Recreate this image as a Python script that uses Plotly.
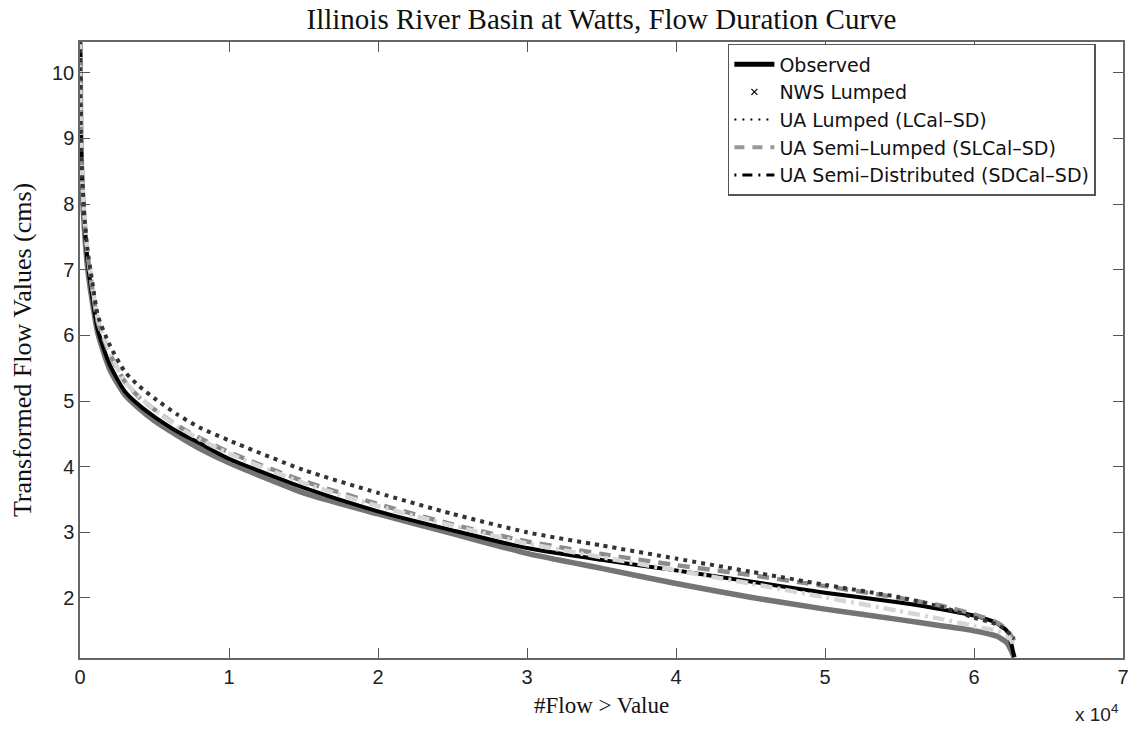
import plotly.graph_objects as go

# ---- data (x = number of flows exceeding value) ----
flow_count = [0, 50, 150, 300, 500, 800, 1200, 2000, 3000, 4000, 5000, 6500, 8000, 10000,
              15000, 20000, 25000, 30000, 35000, 40000, 45000, 50000, 55000,
              58000, 60000, 61500, 62200, 62500, 62700]

observed = [10.5, 9.0, 8.2, 7.6, 7.05, 6.55, 6.03, 5.48, 5.1, 4.88, 4.7, 4.48, 4.28, 4.06,
            3.6, 3.28, 2.98, 2.68, 2.45, 2.22, 2.01, 1.83, 1.67,
            1.57, 1.5, 1.42, 1.32, 1.2, 1.09]

nws_lumped = [10.5, 9.1, 8.3, 7.7, 7.15, 6.62, 6.08, 5.55, 5.15, 4.93, 4.76, 4.54, 4.36, 4.12,
              3.68, 3.32, 3.03, 2.76, 2.58, 2.42, 2.25, 2.08, 1.93,
              1.82, 1.73, 1.62, 1.5, 1.3, 1.1]

ua_lumped = [10.5, 9.2, 8.4, 7.8, 7.3, 6.85, 6.3, 5.85, 5.45, 5.22, 5.04, 4.8, 4.6, 4.4,
             3.95, 3.6, 3.28, 3.0, 2.8, 2.6, 2.4, 2.2, 2.01,
             1.85, 1.7, 1.6, 1.5, 1.42, 1.38]

ua_semi_lumped = [10.5, 9.15, 8.35, 7.75, 7.25, 6.75, 6.2, 5.72, 5.3, 5.05, 4.87, 4.63, 4.44, 4.22,
                  3.78, 3.43, 3.12, 2.86, 2.67, 2.5, 2.35, 2.18, 2.0,
                  1.87, 1.75, 1.63, 1.52, 1.42, 1.35]

ua_semi_dist = [10.5, 9.2, 8.4, 7.8, 7.3, 6.8, 6.25, 5.75, 5.3, 5.06, 4.87, 4.62, 4.42, 4.2,
                3.75, 3.4, 3.1, 2.83, 2.62, 2.42, 2.22, 2.01, 1.8,
                1.67, 1.57, 1.5, 1.43, 1.35, 1.25]

x_tick_vals = [0, 10000, 20000, 30000, 40000, 50000, 60000, 70000]
x_tick_text = ["0", "1", "2", "3", "4", "5", "6", "7"]
y_tick_vals = [2, 3, 4, 5, 6, 7, 8, 9, 10]

names = ["Observed", "NWS Lumped", "UA Lumped (LCal\u2013SD)",
         "UA Semi\u2013Lumped (SLCal\u2013SD)", "UA Semi\u2013Distributed (SDCal\u2013SD)"]

SANS = "Liberation Sans, Arial, sans-serif"
LEG = "DejaVu Sans, Liberation Sans, sans-serif"
SERIF = "Liberation Serif, Times New Roman, serif"

fig = go.Figure()

spl = dict(shape="spline", smoothing=0.6)
# data curves (grayscale appearance of the printed figure)
fig.add_trace(go.Scatter(x=flow_count, y=observed, mode="lines", showlegend=False,
                         line=dict(color="#747474", width=5.5, **spl)))
fig.add_trace(go.Scatter(x=flow_count, y=nws_lumped, mode="lines", showlegend=False,
                         line=dict(color="#000000", width=4, **spl)))
fig.add_trace(go.Scatter(x=flow_count, y=ua_semi_lumped, mode="lines", showlegend=False,
                         line=dict(color="#8c8c8c", width=4.5, dash="12px,8px", **spl)))
fig.add_trace(go.Scatter(x=flow_count, y=ua_semi_dist, mode="lines", showlegend=False,
                         line=dict(color="#d6d6d6", width=4.5, dash="12px,5px,3px,5px", **spl)))
fig.add_trace(go.Scatter(x=flow_count, y=ua_lumped, mode="lines", showlegend=False,
                         line=dict(color="#333333", width=4, dash="4px,5px", **spl)))

# legend entries (styles as in the reference legend)
fig.add_trace(go.Scatter(x=[None], y=[None], mode="lines", name=names[0],
                         line=dict(color="black", width=5)))
fig.add_trace(go.Scatter(x=[None], y=[None], mode="markers", name=names[1],
                         marker=dict(symbol="x-thin", size=6, color="black",
                                     line=dict(color="black", width=1.2))))
fig.add_trace(go.Scatter(x=[None], y=[None], mode="lines", name=names[2],
                         line=dict(color="black", width=2, dash="2px,6px")))
fig.add_trace(go.Scatter(x=[None], y=[None], mode="lines", name=names[3],
                         line=dict(color="#999999", width=4, dash="10px,8px")))
fig.add_trace(go.Scatter(x=[None], y=[None], mode="lines", name=names[4],
                         line=dict(color="black", width=3, dash="2px,6px,10px,6px")))

axis_common = dict(showgrid=False, zeroline=False, showline=True, linecolor="#666666",
                   linewidth=1.5, mirror="ticks", ticks="inside", ticklen=10,
                   tickwidth=1, tickcolor="#555555", automargin=False,
                   ticklabeloverflow="allow",
                   tickfont=dict(family=SANS, size=20, color="#222222"))

fig.update_layout(
    width=1129, height=729,
    margin=dict(l=80, r=6, t=42, b=71),
    paper_bgcolor="white", plot_bgcolor="white",
    title=dict(text="Illinois River Basin at Watts, Flow Duration Curve",
               xref="paper", x=0.5, xanchor="center", y=0.974, yanchor="middle",
               font=dict(family=SERIF, size=29, color="#111111")),
    xaxis=dict(range=[0, 70000], tickvals=x_tick_vals, ticktext=x_tick_text,
               **axis_common),
    yaxis=dict(range=[1.085, 10.47], tickvals=y_tick_vals, **axis_common),
    legend=dict(x=0.974, xanchor="right", y=0.997, yanchor="top",
                bgcolor="white", bordercolor="#555555", borderwidth=1.5,
                font=dict(family=LEG, size=19, color="#111111"),
                tracegroupgap=0, itemwidth=40),
    annotations=[
        dict(text="#Flow > Value", xref="paper", yref="paper", x=0.5, y=-0.0763,
             xanchor="center", yanchor="middle", showarrow=False,
             font=dict(family=SERIF, size=23, color="#111111")),
        dict(text="Transformed Flow Values (cms)", xref="paper", yref="paper",
             x=-0.0555, y=0.5, xanchor="center", yanchor="middle", textangle=-90,
             showarrow=False, font=dict(family=SERIF, size=26, color="#111111")),
        dict(text="x 10<sup>4</sup>", xref="paper", yref="paper",
             x=0.975, y=-0.089, xanchor="center", yanchor="middle", showarrow=False,
             font=dict(family=SANS, size=19, color="#222222")),
    ],
)

# remove the default page margin so the figure fills the window exactly
fig.write_html("out.html", config={"displayModeBar": False},
               post_script="document.body.style.margin='0px';document.body.style.overflow='hidden';")
